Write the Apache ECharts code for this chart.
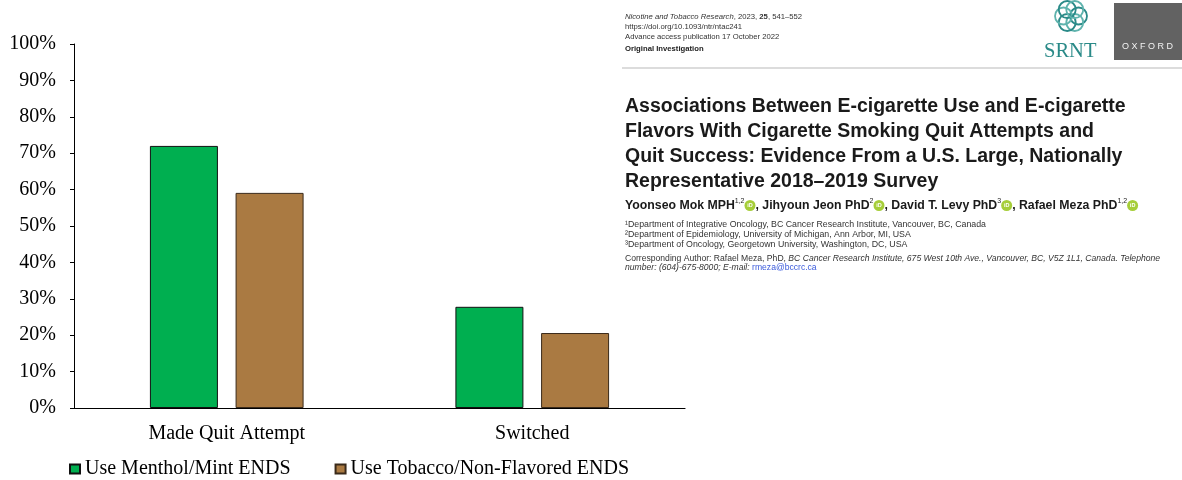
<!DOCTYPE html>
<html>
<head>
<meta charset="utf-8">
<script src="https://cdn.jsdelivr.net/npm/echarts@6/dist/echarts.min.js"></script>
<style>
  html, body { margin: 0; padding: 0; background: #fff; }
  #chart { width: 1182px; height: 480px; }
</style>
</head>
<body>
<div id="chart"></div>
<script>
// Share of ENDS users by flavour group
const categories = ['Made Quit Attempt', 'Switched'];
const mentholMint = [72.0, 27.8];
const tobaccoNonFlavored = [59.1, 20.6];
const seriesNames = ['Use Menthol/Mint ENDS', 'Use Tobacco/Non-Flavored ENDS'];
const yTicks = { min: 0, max: 100, interval: 10 };

// Article header text
const headerMeta = [
  'https://doi.org/10.1093/ntr/ntac241',
  'Advance access publication 17 October 2022'
];
const titleLines = [
  'Associations Between E-cigarette Use and E-cigarette',
  'Flavors With Cigarette Smoking Quit Attempts and',
  'Quit Success: Evidence From a U.S. Large, Nationally',
  'Representative 2018\u20132019 Survey'
];
const affiliations = [
  '\u00B9Department of Integrative Oncology, BC Cancer Research Institute, Vancouver, BC, Canada',
  '\u00B2Department of Epidemiology, University of Michigan, Ann Arbor, MI, USA',
  '\u00B3Department of Oncology, Georgetown University, Washington, DC, USA'
];

const SERIF = '"Liberation Serif", "Times New Roman", serif';
const SANS = '"Liberation Sans", Arial, sans-serif';
const TEAL = '#2a8a88';

const chart = echarts.init(document.getElementById('chart'), null, { renderer: 'canvas' });

const graphics = [];
const hx = 625;

// journal meta block
graphics.push({
  type: 'text', left: hx, top: 13,
  style: {
    text: '{i|Nicotine and Tobacco Research}{n|, 2023, }{b|25}{n|, 541\u2013552}',
    rich: {
      i: { font: 'italic 7.7px ' + SANS, fill: '#333' },
      n: { font: '7.7px ' + SANS, fill: '#333' },
      b: { font: 'bold 7.7px ' + SANS, fill: '#333' }
    }
  }
});
headerMeta.forEach((t, i) => {
  graphics.push({
    type: 'text', left: hx, top: 23 + i * 10,
    style: { text: t, font: '7.7px ' + SANS, fill: '#333' }
  });
});
graphics.push({
  type: 'text', left: hx, top: 45,
  style: { text: 'Original Investigation', font: 'bold 7.7px ' + SANS, fill: '#222' }
});
graphics.push({
  type: 'line', shape: { x1: 622, y1: 68, x2: 1182, y2: 68 },
  style: { stroke: '#d0d0d0', lineWidth: 1.5 }
});

// SRNT emblem: interlaced rings
const knot = [];
for (let k = 0; k < 6; k++) {
  const a = k * Math.PI / 3;
  knot.push({
    type: 'circle',
    shape: { cx: 1071 + 7.5 * Math.cos(a), cy: 16 + 7.5 * Math.sin(a), r: 8.5 },
    style: { fill: 'none', stroke: k % 2 ? '#5fb3ad' : TEAL, lineWidth: 1.8 }
  });
}
graphics.push({ type: 'group', children: knot });
graphics.push({
  type: 'text', left: 1044, top: 41,
  style: { text: 'SRNT', font: '20.5px ' + SERIF, fill: TEAL }
});
graphics.push({
  type: 'rect', shape: { x: 1114, y: 3, width: 68, height: 57 },
  style: { fill: '#626262' }
});
graphics.push({
  type: 'text', left: 1122, top: 42,
  style: { text: 'O X F O R D', font: '9px ' + SANS, fill: '#f2f2f2' }
});

// title
titleLines.forEach((t, i) => {
  graphics.push({
    type: 'text', left: hx, top: 97 + i * 25,
    style: { text: t, font: 'bold 19.5px ' + SANS, fill: '#1a1a1a' }
  });
});

// authors with superscripts and ORCID badges
const authRich = {
  a: { font: 'bold 12.3px ' + SANS, fill: '#1a1a1a', lineHeight: 15 },
  s: { font: '7px ' + SANS, fill: '#1a1a1a', verticalAlign: 'top', lineHeight: 15 },
  o: { font: 'bold 5.5px ' + SANS, fill: '#fff', backgroundColor: '#a6ce39', borderRadius: 6,
       width: 11, height: 11, lineHeight: 11, align: 'center' }
};
graphics.push({
  type: 'text', left: hx, top: 198,
  style: {
    text: '{a|Yoonseo Mok MPH}{s|1,2}{o|iD}{a|, Jihyoun Jeon PhD}{s|2}{o|iD}{a|, David T. Levy PhD}{s|3}{o|iD}{a|, Rafael Meza PhD}{s|1,2}{o|iD}',
    rich: authRich
  }
});
affiliations.forEach((t, i) => {
  graphics.push({
    type: 'text', left: hx, top: 220 + i * 9.8,
    style: { text: t, font: '8.8px ' + SANS, fill: '#333' }
  });
});
const corrRich = {
  n: { font: '8.6px ' + SANS, fill: '#333' },
  i: { font: 'italic 8.6px ' + SANS, fill: '#333' },
  m: { font: '8.6px ' + SANS, fill: '#3b5bdb' }
};
graphics.push({
  type: 'text', left: hx, top: 254,
  style: {
    text: '{n|Corresponding Author: Rafael Meza, PhD, }{i|BC Cancer Research Institute, 675 West 10th Ave., Vancouver, BC, V5Z 1L1, Canada. Telephone}',
    rich: corrRich
  }
});
graphics.push({
  type: 'text', left: hx, top: 263,
  style: {
    text: '{i|number: (604)-675-8000; E-mail: }{m|rmeza@bccrc.ca}',
    rich: corrRich
  }
});

const option = {
  backgroundColor: '#fff',
  animation: false,
  grid: { left: 74, right: 497, top: 44, bottom: 72, containLabel: false },
  legend: {
    left: 64, top: 454,
    itemWidth: 10, itemHeight: 9, itemGap: 44,
    icon: 'rect',
    textStyle: { fontFamily: SERIF, fontSize: 20, color: '#000' },
    data: seriesNames
  },
  xAxis: {
    type: 'category',
    data: categories,
    axisLine: { show: true, lineStyle: { color: '#000', width: 1.2 } },
    axisTick: { show: false },
    axisLabel: { margin: 16, fontFamily: SERIF, fontSize: 20, color: '#000' },
    splitLine: { show: false }
  },
  yAxis: {
    type: 'value',
    min: yTicks.min, max: yTicks.max, interval: yTicks.interval,
    axisLine: { show: true, lineStyle: { color: '#000', width: 1 } },
    axisTick: { show: true, length: 4, lineStyle: { color: '#000' } },
    axisLabel: { margin: 18, formatter: '{value}%', fontFamily: SERIF, fontSize: 20, color: '#000' },
    splitLine: { show: false }
  },
  series: [
    {
      name: seriesNames[0], type: 'bar', data: mentholMint,
      barWidth: 68, barGap: '26%',
      itemStyle: { color: '#00af50', borderColor: '#111', borderWidth: 1 }
    },
    {
      name: seriesNames[1], type: 'bar', data: tobaccoNonFlavored,
      barWidth: 68,
      itemStyle: { color: '#aa7a42', borderColor: '#3a2a1a', borderWidth: 1 }
    }
  ],
  graphic: graphics
};

chart.setOption(option);
</script>
</body>
</html>
